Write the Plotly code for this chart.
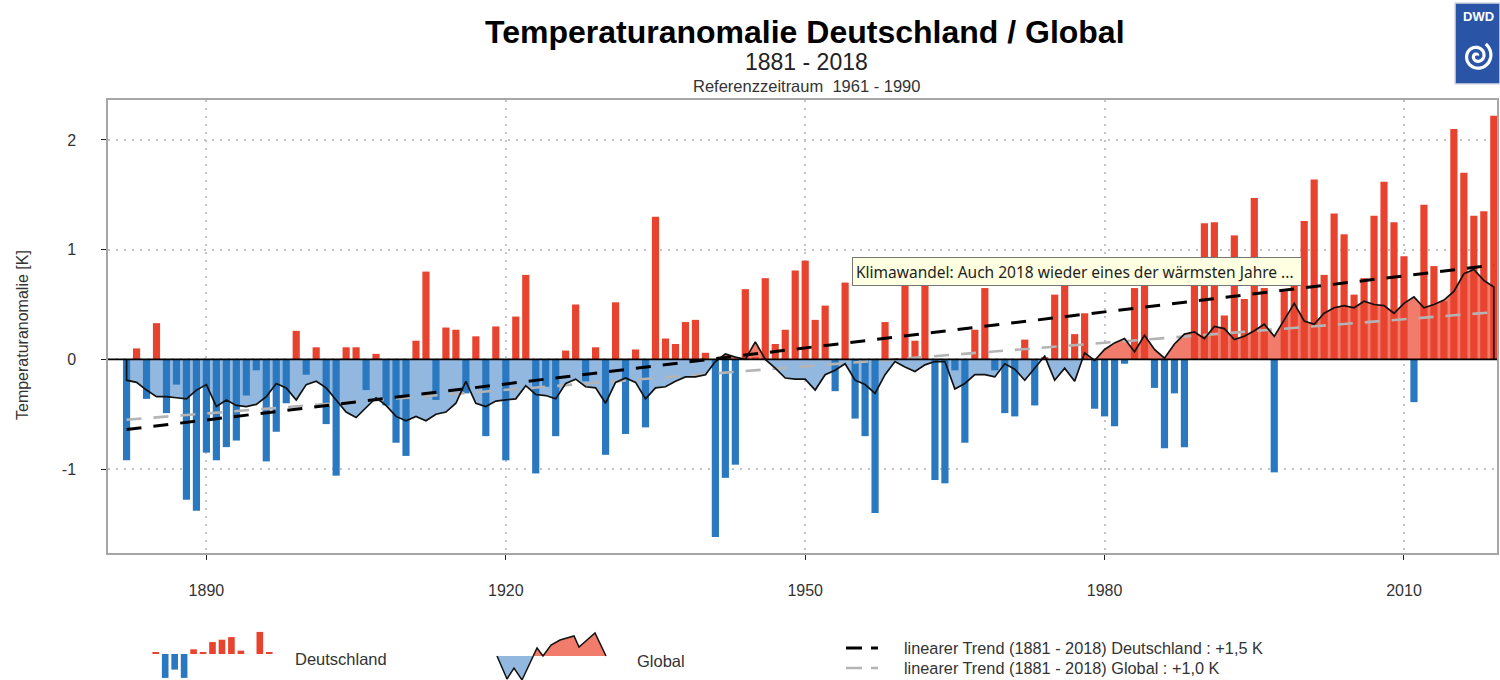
import numpy as np
import plotly.graph_objects as go

# ---------------- data ----------------
years = list(range(1881, 2019))

germany = [
    -0.92, 0.10, -0.36, 0.33, -0.49, -0.23, -1.28, -1.38, -0.85, -0.92,   # 1881-1890
    -0.80, -0.74, -0.33, -0.10, -0.93, -0.66, -0.40, 0.26, -0.14, 0.11,   # 1891-1900
    -0.59, -1.06, 0.11, 0.11, -0.28, 0.05, -0.42, -0.76, -0.88, 0.17,     # 1901-1910
    0.80, -0.37, 0.29, 0.27, -0.31, 0.21, -0.70, 0.30, -0.92, 0.39,       # 1911-1920
    0.77, -1.04, -0.25, -0.70, 0.08, 0.50, -0.20, 0.11, -0.87, 0.52,      # 1921-1930
    -0.68, 0.09, -0.62, 1.30, 0.19, 0.14, 0.34, 0.36, 0.06, -1.62,        # 1931-1940
    -1.08, -0.96, 0.64, 0.02, 0.74, 0.14, 0.27, 0.81, 0.90, 0.36,         # 1941-1950
    0.49, -0.29, 0.70, -0.54, -0.70, -1.40, 0.34, 0.01, 0.85, 0.17,       # 1951-1960
    0.82, -1.10, -1.13, -0.10, -0.76, 0.27, 0.65, -0.10, -0.49, -0.52,    # 1961-1970
    0.18, -0.42, 0.02, 0.59, 0.72, 0.23, 0.42, -0.45, -0.52, -0.61,       # 1971-1980
    -0.04, 0.65, 0.80, -0.26, -0.81, -0.31, -0.80, 0.78, 1.24, 1.25,      # 1981-1990
    0.40, 1.13, 0.55, 1.47, 0.65, -1.03, 0.62, 0.72, 1.26, 1.64,          # 1991-2000
    0.77, 1.33, 1.14, 0.59, 0.74, 1.31, 1.62, 1.25, 0.94, -0.39,          # 2001-2010
    1.41, 0.85, 0.53, 2.10, 1.70, 1.31, 1.35, 2.22,                       # 2011-2018
]

global_anom = [
    -0.19, -0.21, -0.28, -0.34, -0.34, -0.35, -0.36, -0.28, -0.23, -0.43,
    -0.37, -0.42, -0.43, -0.41, -0.34, -0.22, -0.26, -0.37, -0.23, -0.20,
    -0.26, -0.37, -0.48, -0.53, -0.44, -0.35, -0.42, -0.52, -0.56, -0.52,
    -0.56, -0.50, -0.48, -0.40, -0.20, -0.40, -0.43, -0.38, -0.37, -0.36,
    -0.24, -0.32, -0.33, -0.36, -0.22, -0.18, -0.25, -0.26, -0.40, -0.21,
    -0.17, -0.21, -0.36, -0.26, -0.25, -0.20, -0.16, -0.16, -0.14, -0.02,
    0.05, 0.02, 0.00, 0.16, 0.00, -0.08, -0.17, -0.18, -0.18, -0.28,
    -0.14, -0.10, -0.04, -0.19, -0.23, -0.31, -0.14, -0.02, -0.07, -0.11,
    -0.05, -0.02, -0.02, -0.27, -0.22, -0.14, -0.14, -0.16, -0.04, -0.09,
    -0.19, -0.08, 0.03, -0.19, -0.08, -0.20, 0.06, -0.01, 0.09, 0.15,
    0.19, 0.07, 0.22, 0.09, 0.01, 0.14, 0.23, 0.25, 0.19, 0.30,
    0.28, 0.18, 0.21, 0.26, 0.32, 0.21, 0.36, 0.51, 0.35, 0.32,
    0.42, 0.47, 0.49, 0.47, 0.53, 0.50, 0.49, 0.42, 0.51, 0.57,
    0.47, 0.50, 0.54, 0.62, 0.78, 0.82, 0.72, 0.66,
]

trend_years = [1881, 2018]
trend_germany = [-0.64, 0.86]   # linearer Trend Deutschland : +1,5 K
trend_global = [-0.55, 0.43]    # linearer Trend Global : +1,0 K

x_tick_years = [1890, 1920, 1950, 1980, 2010]
y_tick_values = [-1, 0, 1, 2]

# legend swatch shapes
icon_de_values = [0.06, -0.92, -0.6, -0.92, 0.18, 0.04, 0.46, 0.55, 0.65, 0.13, 0.0, 0.85, 0.04]
icon_gl_x = [0, 10, 17, 25, 33, 36, 40, 46, 54, 63, 77, 82, 98, 109]
icon_gl_y = [0, -23, -12, -24, -7, 0, 8, 0, 11, 16, 20, 9, 23, 0]

# ---------------- styling ----------------
W, H = 1500, 680
FONT = "Liberation Sans, Arial, sans-serif"
BAR_RED = "#e8432e"
BAR_BLUE = "#2a78bf"
FILL_RED = "#f27c6b"
FILL_BLUE = "#93b8e0"
GRID = "#c4c4c4"
FRAME = "#a6a6a6"


def fx(p):
    return p / W


def fy(p):
    return 1 - p / H


# in the original every annual value is drawn at the end of its year
year_end = [y + 1 for y in years]
trend_x = [y + 1 for y in trend_years]

poly_x = [year_end[0]] + year_end + [year_end[-1]]
poly_y = [0] + global_anom + [0]

split_scale = [[0, FILL_BLUE], [0.5, FILL_BLUE], [0.5, FILL_RED], [1, FILL_RED]]

fig = go.Figure()

# global area (bottom layer)
fig.add_trace(go.Scatter(
    x=poly_x, y=poly_y, mode="lines", line=dict(width=0, color="rgba(0,0,0,0)"),
    fill="toself", fillgradient=dict(type="vertical", colorscale=split_scale, start=-1, stop=1),
    xaxis="x", yaxis="y", hoverinfo="skip", name="Global fill"))

# Germany bars
fig.add_trace(go.Bar(
    x=year_end, y=germany, width=0.72,
    marker=dict(color=[BAR_RED if v >= 0 else BAR_BLUE for v in germany], line=dict(width=0)),
    xaxis="x2", yaxis="y2", name="Deutschland"))

# trend lines
fig.add_trace(go.Scatter(
    x=trend_x, y=trend_global, mode="lines",
    line=dict(color="#b4b4b4", width=2.6, dash="15px,12px"),
    xaxis="x2", yaxis="y2", name="Trend Global"))
fig.add_trace(go.Scatter(
    x=trend_x, y=trend_germany, mode="lines",
    line=dict(color="#000000", width=3, dash="15px,12px"),
    xaxis="x2", yaxis="y2", name="Trend Deutschland"))

# global outline
fig.add_trace(go.Scatter(
    x=poly_x, y=poly_y, mode="lines", line=dict(color="#111111", width=1.7),
    xaxis="x2", yaxis="y2", name="Global"))

# legend swatch: Deutschland bars
fig.add_trace(go.Bar(
    x=list(range(len(icon_de_values))), y=icon_de_values, width=0.7,
    marker=dict(color=[BAR_RED if v >= 0 else BAR_BLUE for v in icon_de_values], line=dict(width=0)),
    xaxis="x3", yaxis="y3", hoverinfo="skip"))

# legend swatch: Global area
fig.add_trace(go.Scatter(
    x=icon_gl_x, y=icon_gl_y, mode="lines", line=dict(color="#111111", width=1.5),
    fill="toself", fillgradient=dict(type="vertical", colorscale=split_scale, start=-30, stop=30),
    xaxis="x4", yaxis="y4", hoverinfo="skip"))

axis_font = dict(family=FONT, size=16, color="#333333")

fig.update_layout(
    width=W, height=H,
    margin=dict(l=0, r=0, t=0, b=0),
    paper_bgcolor="white", plot_bgcolor="white",
    showlegend=False,
    barmode="overlay",
    xaxis=dict(
        domain=[fx(108), fx(1497)], range=[1880.14, 2019.32],
        tickmode="array", tickvals=x_tick_years, ticktext=[str(v) for v in x_tick_years],
        showgrid=True, gridcolor=GRID, griddash="2px,6px", gridwidth=1.6,
        zeroline=False, showline=True, linecolor=FRAME, linewidth=1.5, mirror=True,
        ticks="outside", ticklen=5, tickcolor="#222", tickfont=axis_font,
        ticklabelstandoff=17, anchor="y", fixedrange=True),
    yaxis=dict(
        domain=[fy(553), fy(100)], range=[-1.765, 2.364],
        tickmode="array", tickvals=y_tick_values, ticktext=[str(v) for v in y_tick_values],
        showgrid=True, gridcolor=GRID, griddash="2px,6px", gridwidth=1.6,
        zeroline=False, showline=True, linecolor=FRAME, linewidth=1.5, mirror=True,
        ticks="outside", ticklen=5, tickcolor="#222", tickfont=axis_font,
        ticklabelstandoff=22, anchor="x", fixedrange=True),
    xaxis2=dict(overlaying="x", matches="x", visible=False, anchor="y2"),
    yaxis2=dict(overlaying="y", matches="y", visible=False, anchor="x2"),
    xaxis3=dict(domain=[fx(151), fx(274)], range=[-0.5, 12.5], visible=False, anchor="y3", fixedrange=True),
    yaxis3=dict(domain=[fy(680), fy(628)], range=[-1, 1], visible=False, anchor="x3", fixedrange=True),
    xaxis4=dict(domain=[fx(494), fx(609)], range=[-3, 112], visible=False, anchor="y4", fixedrange=True),
    yaxis4=dict(domain=[fy(680), fy(630)], range=[-24, 26], visible=False, anchor="x4", fixedrange=True),
)

# zero line across plot
shapes = [
    dict(type="line", xref="x domain", yref="y", x0=0, x1=1, y0=0, y1=0,
         line=dict(color="#000000", width=1.6), layer="above"),
    # trend legend swatches
    dict(type="line", xref="paper", yref="paper", x0=fx(846), x1=fx(878), y0=fy(648), y1=fy(648),
         line=dict(color="#000000", width=3, dash="16px,9px,7px")),
    dict(type="line", xref="paper", yref="paper", x0=fx(846), x1=fx(878), y0=fy(668), y1=fy(668),
         line=dict(color="#b4b4b4", width=2.6, dash="16px,9px,7px")),
    # DWD logo box
    dict(type="rect", xref="paper", yref="paper", x0=fx(1455), x1=fx(1500), y0=fy(84), y1=fy(3),
         fillcolor="#2a55a6", line=dict(color="#d8dce8", width=1.5)),
]

# logo spiral (decoration)
theta = np.linspace(0.7, 4.3 * np.pi, 140)
rad = 1.1 * theta
pts = " L ".join(f"{a:.2f},{b:.2f}" for a, b in zip(rad * np.cos(theta), rad * np.sin(theta)))
shapes.append(dict(type="path", xref="paper", yref="paper", xsizemode="pixel", ysizemode="pixel",
                   xanchor=fx(1477), yanchor=fy(56), path="M " + pts,
                   line=dict(color="white", width=3.2)))

fig.update_layout(shapes=shapes)

ann = [
    dict(text="<b>Temperaturanomalie Deutschland / Global</b>", x=fx(805), y=fy(32),
         font=dict(family=FONT, size=32, color="#000000")),
    dict(text="1881 - 2018", x=fx(806), y=fy(62), font=dict(family=FONT, size=23, color="#222222")),
    dict(text="Referenzzeitraum \u00a01961 - 1990", x=fx(806), y=fy(86),
         font=dict(family=FONT, size=16.5, color="#333333")),
    dict(text="Temperaturanomalie [K]", x=fx(22), y=fy(335), textangle=-90,
         font=dict(family=FONT, size=16, color="#333333")),
    dict(text="Deutschland", x=fx(293), y=fy(659), xanchor="left",
         font=dict(family=FONT, size=16.5, color="#333333")),
    dict(text="Global", x=fx(635), y=fy(661), xanchor="left",
         font=dict(family=FONT, size=16.5, color="#333333")),
    dict(text="linearer Trend (1881 - 2018) Deutschland : +1,5 K", x=fx(902), y=fy(648), xanchor="left",
         font=dict(family=FONT, size=16.3, color="#333333")),
    dict(text="linearer Trend (1881 - 2018) Global : +1,0 K", x=fx(902), y=fy(668), xanchor="left",
         font=dict(family=FONT, size=16.3, color="#333333")),
    dict(text="<b>DWD</b>", x=fx(1478), y=fy(16), font=dict(family=FONT, size=13, color="white")),
    dict(text="Klimawandel: Auch 2018 wieder eines der wärmsten Jahre ...", x=fx(852), y=fy(257),
         xanchor="left", yanchor="top", align="left", width=442, height=21,
         bgcolor="#ffffe1", bordercolor="#767676", borderwidth=1, borderpad=3,
         font=dict(family="Noto Sans, Open Sans, sans-serif", size=15.5, color="#1e1e1e")),
]
for a in ann:
    a.setdefault("xref", "paper")
    a.setdefault("yref", "paper")
    a.setdefault("showarrow", False)
    a.setdefault("xanchor", "center")
    a.setdefault("yanchor", "middle")
fig.update_layout(annotations=ann)

fig.write_html(
    "out.html",
    config={"displayModeBar": False},
    post_script="document.body.style.margin='0';document.body.style.overflow='hidden';",
)
